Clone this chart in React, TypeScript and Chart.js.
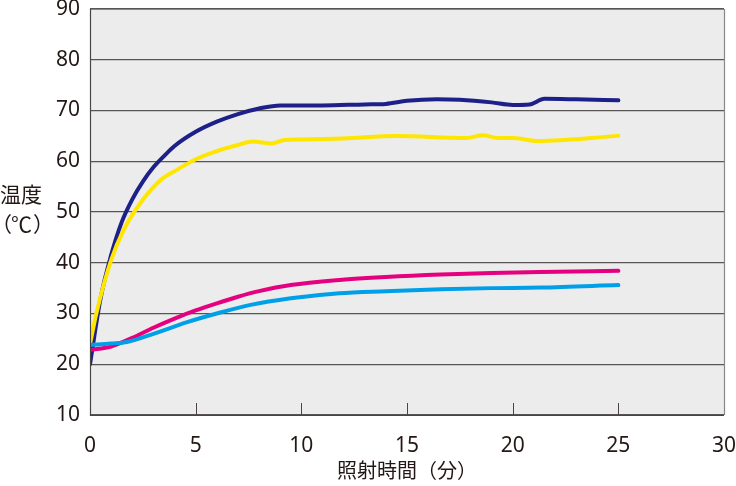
import React, { useEffect, useRef } from "react";
import { Chart, registerables } from "chart.js";

Chart.register(...registerables);

const xTicks = [0, 5, 10, 15, 20, 25, 30];
const yTicks = [10, 20, 30, 40, 50, 60, 70, 80, 90];

const navyT = [0, 0.5, 1.0, 1.5, 2, 2.5, 3, 3.5, 4, 5, 6, 7, 8, 9, 11, 13, 14, 15, 16.4, 17.5, 19, 20, 20.8, 21.5, 23, 25];
const navyV = [20, 33, 41.5, 48, 52.5, 56, 58.8, 61, 63, 65.8, 67.8, 69.3, 70.4, 71, 71, 71.2, 71.3, 71.9, 72.2, 72.1, 71.6, 71.1, 71.2, 72.3, 72.2, 72];

const yellowT = [0, 0.3, 1.0, 1.6, 2.5, 3.4, 4.2, 5, 6, 7, 7.7, 8.6, 9.2, 10, 12, 14.5, 17.8, 18.6, 19.3, 20, 21.2, 25];
const yellowV = [24, 30, 40.5, 46.5, 52.4, 56.5, 58.5, 60.4, 62, 63.2, 63.9, 63.5, 64.2, 64.3, 64.5, 65, 64.6, 65.1, 64.6, 64.6, 64, 65];

const magentaT = [0, 1, 2, 3, 4, 5, 6, 7, 8, 9.5, 11.8, 14, 16.6, 19, 21.3, 25];
const magentaV = [22.8, 23.5, 25.2, 27.2, 29.0, 30.6, 32.0, 33.3, 34.4, 35.6, 36.6, 37.2, 37.7, 38.0, 38.2, 38.4];

const cyanT = [0, 1, 1.75, 3, 4.6, 6, 7.6, 9.5, 11.8, 14, 16.6, 19, 21.3, 25];
const cyanV = [23.8, 24.1, 24.4, 26, 28.3, 30, 31.7, 33.0, 34.0, 34.4, 34.8, 35.0, 35.1, 35.6];

const xTitle = "照射時間（分）";
const yTitle1 = "温度";
const yTitle2 = ["（", "℃", "）"];

const FONT = "'Noto Sans', 'Noto Sans CJK JP', sans-serif";
const TEXT = "#231815";

function pts(t: number[], v: number[]) {
  return t.map((x, i) => ({ x, y: v[i] }));
}

const bgPlugin = {
  id: "bgPlugin",
  beforeDraw(chart: any) {
    const { ctx, chartArea } = chart;
    ctx.save();
    ctx.fillStyle = "#ececec";
    ctx.fillRect(chartArea.left, chartArea.top, chartArea.right - chartArea.left, chartArea.bottom - chartArea.top);
    ctx.restore();
  },
  afterDatasetsDraw(chart: any) {
    const { ctx, chartArea, scales } = chart;
    ctx.save();
    ctx.strokeStyle = "#8a8686";
    ctx.lineWidth = 1.2;
    ctx.beginPath();
    ctx.moveTo(chartArea.left, chartArea.top + 0.5);
    ctx.lineTo(chartArea.right + 0.5, chartArea.top + 0.5);
    ctx.lineTo(chartArea.right + 0.5, chartArea.bottom);
    ctx.stroke();
    ctx.strokeStyle = "#4a4545";
    ctx.beginPath();
    ctx.moveTo(chartArea.left + 0.5, chartArea.top);
    ctx.lineTo(chartArea.left + 0.5, chartArea.bottom + 0.5);
    ctx.lineTo(chartArea.right, chartArea.bottom + 0.5);
    ctx.stroke();
    ctx.lineWidth = 1;
    for (const t of xTicks) {
      if (t === 0 || t === 30) continue;
      const x = Math.round(scales.x.getPixelForValue(t)) + 0.5;
      ctx.beginPath();
      ctx.moveTo(x, chartArea.bottom);
      ctx.lineTo(x, chartArea.bottom - 12);
      ctx.stroke();
    }
    ctx.restore();
  },
  afterDraw(chart: any) {
    const { ctx, chartArea } = chart;
    ctx.save();
    ctx.fillStyle = TEXT;
    ctx.font = `20px ${FONT}`;
    ctx.textAlign = "center";
    ctx.textBaseline = "middle";
    ctx.fillText(xTitle, (chartArea.left + chartArea.right) / 2, 472, 142);
    ctx.textAlign = "left";
    ctx.font = `21px ${FONT}`;
    ctx.fillText(yTitle1, 0, 196, 44);
    ctx.font = `21px 'Noto Sans CJK JP', sans-serif`;
    ctx.fillText(yTitle2[0], -9, 224);
    ctx.fillText(yTitle2[1], 11, 224);
    ctx.fillText(yTitle2[2], 33, 224);
    ctx.restore();
  },
};

export default function App() {
  const ref = useRef<HTMLCanvasElement | null>(null);
  useEffect(() => {
    if (!ref.current) return;
    const mk = (label: string, t: number[], v: number[], color: string) => ({
      label,
      data: pts(t, v),
      borderColor: color,
      backgroundColor: color,
      borderWidth: 4,
      pointRadius: 0,
      cubicInterpolationMode: "monotone" as const,
      borderCapStyle: "round" as const,
      borderJoinStyle: "round" as const,
    });
    const chart = new Chart(ref.current, {
      type: "line",
      data: {
        datasets: [
          mk("cyan", cyanT, cyanV, "#00a0e9"),
          mk("magenta", magentaT, magentaV, "#e4007f"),
          mk("yellow", yellowT, yellowV, "#ffe600"),
          mk("navy", navyT, navyV, "#1d2088"),
        ],
      },
      options: {
        animation: false,
        responsive: false,
        maintainAspectRatio: false,
        layout: { padding: { left: 0, top: 9, right: 12, bottom: 0 } },
        plugins: { legend: { display: false }, tooltip: { enabled: false } },
        scales: {
          x: {
            type: "linear",
            min: 0,
            max: 30,
            afterBuildTicks: (s: any) => {
              s.ticks = xTicks.map((v) => ({ value: v }));
            },
            afterFit: (s: any) => {
              s.height = 71;
              s.paddingLeft = 0;
              s.paddingRight = 0;
            },
            grid: { display: false, drawTicks: false },
            border: { display: false },
            ticks: { color: TEXT, font: { size: 21, family: FONT }, padding: 18, maxRotation: 0 },
          },
          y: {
            type: "linear",
            min: 10,
            max: 90,
            afterBuildTicks: (s: any) => {
              s.ticks = yTicks.map((v) => ({ value: v }));
            },
            afterFit: (s: any) => {
              s.width = 90;
              s.paddingTop = 0;
              s.paddingBottom = 0;
            },
            grid: { color: "#5a5555", lineWidth: 1.2, drawTicks: false },
            border: { display: false },
            ticks: { color: TEXT, font: { size: 21, family: FONT }, padding: 10 },
          },
        },
      },
      plugins: [bgPlugin],
    });
    return () => chart.destroy();
  }, []);
  return (
    <div style={{ position: "fixed", left: 0, top: 0, width: 736, height: 486, background: "#fff" }}>
      <canvas ref={ref} width={736} height={486} style={{ width: 736, height: 486, display: "block" }} />
    </div>
  );
}
